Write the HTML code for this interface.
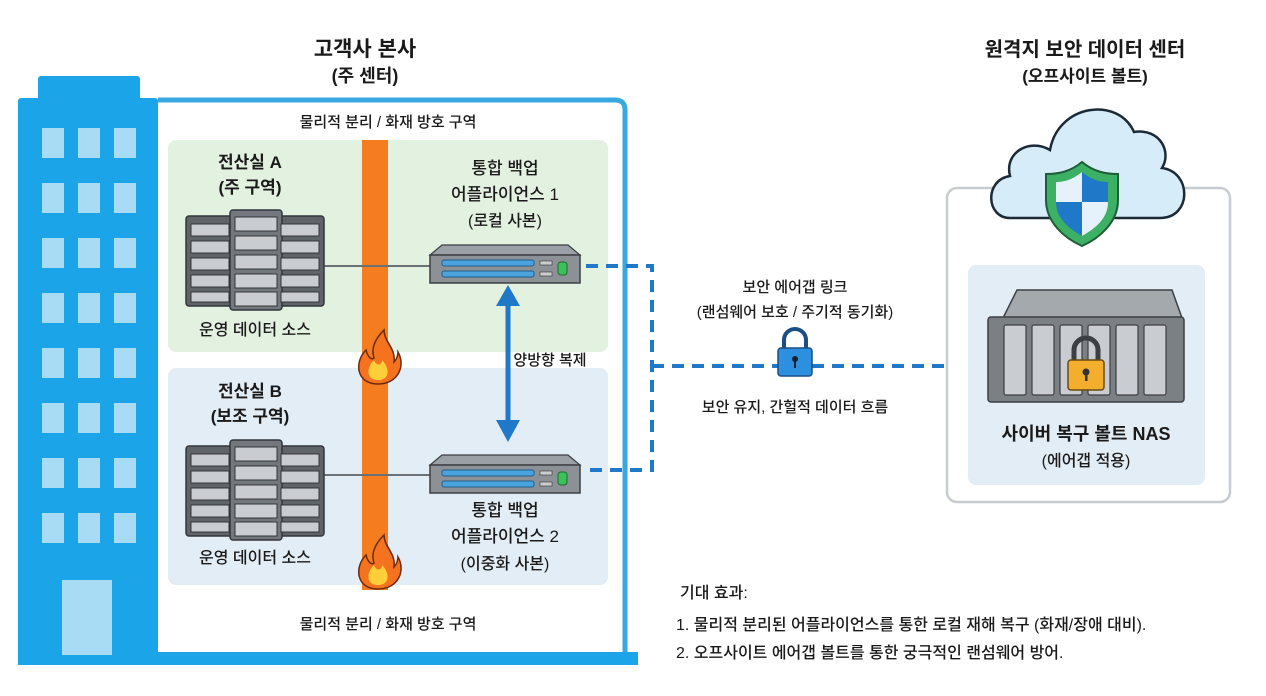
<!DOCTYPE html>
<html><head><meta charset="utf-8"><style>
body{margin:0;background:#fff}
svg text{font-family:"Liberation Sans","Noto Sans CJK KR",sans-serif;fill:#1a1a1a}
.m{font-weight:500}
</style></head><body>
<svg width="1266" height="691" viewBox="0 0 1266 691" xmlns="http://www.w3.org/2000/svg">
<defs>
<g id="srv">
  <rect x="0" y="6" width="48" height="90" rx="3" fill="#5f6468" stroke="#33363a" stroke-width="1.5"/>
  <rect x="90" y="6" width="48" height="90" rx="3" fill="#5f6468" stroke="#33363a" stroke-width="1.5"/>
  <rect x="44" y="0" width="52" height="100" rx="3" fill="#72787d" stroke="#33363a" stroke-width="1.5"/>
  <g fill="#c9cdd1" stroke="#33363a" stroke-width="1">
    <rect x="5" y="14" width="38" height="12"/><rect x="5" y="31" width="38" height="12"/><rect x="5" y="48" width="38" height="12"/><rect x="5" y="65" width="38" height="12"/><rect x="5" y="82" width="38" height="10"/>
    <rect x="95" y="14" width="38" height="12"/><rect x="95" y="31" width="38" height="12"/><rect x="95" y="48" width="38" height="12"/><rect x="95" y="65" width="38" height="12"/><rect x="95" y="82" width="38" height="10"/>
    <rect x="49" y="7" width="42" height="14"/><rect x="49" y="26" width="42" height="14"/><rect x="49" y="45" width="42" height="14"/><rect x="49" y="64" width="42" height="14"/><rect x="49" y="82" width="42" height="14"/>
  </g>
</g>
<g id="app">
  <polygon points="12,0 138,0 150,10 0,10" fill="#9aa0a6" stroke="#3c3f43" stroke-width="1.2"/>
  <rect x="0" y="10" width="150" height="28" fill="#8c9196" stroke="#3c3f43" stroke-width="1.5"/>
  <rect x="12" y="15" width="92" height="6" rx="2" fill="#4aa3dc" stroke="#1f5f8f"/>
  <rect x="12" y="26" width="92" height="6" rx="2" fill="#4aa3dc" stroke="#1f5f8f"/>
  <rect x="110" y="16" width="12" height="4" fill="#ccc" stroke="#333" stroke-width=".6"/>
  <rect x="110" y="27" width="12" height="4" fill="#ccc" stroke="#333" stroke-width=".6"/>
  <rect x="128" y="17" width="9" height="13" rx="3" fill="#3cc15a" stroke="#1e6b2f"/>
</g>
<g id="flame">
  <path d="M0,22 C-22,22 -24,0 -12,-12 C-10,-4 -6,-2 -4,-4 C-8,-16 0,-26 6,-32 C6,-20 18,-14 16,0 C20,-4 20,-10 20,-10 C28,4 20,22 0,22Z" fill="#f5731f" stroke="#6b2a0a" stroke-width="1.5"/>
  <path d="M0,18 C-12,18 -12,6 -4,-2 C-2,4 4,4 4,-2 C12,6 12,18 0,18Z" fill="#ffcf3a"/>
</g>
</defs>

<path d="M158 100 H615 Q625 100 625 110 V660" fill="none" stroke="#3aa8e0" stroke-width="5"/>
<rect x="18" y="652" width="620" height="13" fill="#1ca4e8"/>
<rect x="38" y="76" width="102" height="30" rx="3" fill="#1ca4e8"/>
<rect x="18" y="98" width="140" height="567" rx="3" fill="#1ca4e8"/>
<g fill="#a8dcf5">
  <rect x="42" y="128" width="22" height="30"/><rect x="78" y="128" width="22" height="30"/><rect x="114" y="128" width="22" height="30"/>
  <rect x="42" y="183" width="22" height="30"/><rect x="78" y="183" width="22" height="30"/><rect x="114" y="183" width="22" height="30"/>
  <rect x="42" y="238" width="22" height="30"/><rect x="78" y="238" width="22" height="30"/><rect x="114" y="238" width="22" height="30"/>
  <rect x="42" y="293" width="22" height="30"/><rect x="78" y="293" width="22" height="30"/><rect x="114" y="293" width="22" height="30"/>
  <rect x="42" y="348" width="22" height="30"/><rect x="78" y="348" width="22" height="30"/><rect x="114" y="348" width="22" height="30"/>
  <rect x="42" y="403" width="22" height="30"/><rect x="78" y="403" width="22" height="30"/><rect x="114" y="403" width="22" height="30"/>
  <rect x="42" y="458" width="22" height="30"/><rect x="78" y="458" width="22" height="30"/><rect x="114" y="458" width="22" height="30"/>
  <rect x="42" y="513" width="22" height="30"/><rect x="78" y="513" width="22" height="30"/><rect x="114" y="513" width="22" height="30"/>
  <rect x="62" y="580" width="50" height="75"/>
</g>

<text x="365" y="56" font-size="21" font-weight="bold" text-anchor="middle">고객사 본사</text>
<text x="365" y="82" font-size="18" font-weight="bold" text-anchor="middle">(주 센터)</text>
<text class="m" x="388" y="127" font-size="15" text-anchor="middle">물리적 분리 / 화재 방호 구역</text>
<text class="m" x="388" y="629" font-size="15" text-anchor="middle">물리적 분리 / 화재 방호 구역</text>

<rect x="168" y="140" width="440" height="212" rx="8" fill="#e3f1e0"/>
<rect x="168" y="368" width="440" height="217" rx="8" fill="#e3edf5"/>
<rect x="362" y="140" width="26" height="450" fill="#f57c1f"/>

<text x="250" y="168" font-size="17" font-weight="bold" text-anchor="middle">전산실 A</text>
<text x="250" y="193" font-size="17" font-weight="bold" text-anchor="middle">(주 구역)</text>
<text class="m" x="255" y="335" font-size="16" text-anchor="middle">운영 데이터 소스</text>
<text x="250" y="397" font-size="17" font-weight="bold" text-anchor="middle">전산실 B</text>
<text x="250" y="422" font-size="17" font-weight="bold" text-anchor="middle">(보조 구역)</text>
<text class="m" x="255" y="563" font-size="16" text-anchor="middle">운영 데이터 소스</text>

<text class="m" x="505" y="174" font-size="17" text-anchor="middle">통합 백업</text>
<text class="m" x="505" y="200" font-size="17" text-anchor="middle">어플라이언스 1</text>
<text class="m" x="505" y="226" font-size="16" text-anchor="middle">(로컬 사본)</text>
<text class="m" x="505" y="516" font-size="17" text-anchor="middle">통합 백업</text>
<text class="m" x="505" y="542" font-size="17" text-anchor="middle">어플라이언스 2</text>
<text class="m" x="505" y="569" font-size="16" text-anchor="middle">(이중화 사본)</text>

<line x1="322" y1="266" x2="432" y2="266" stroke="#6b7075" stroke-width="2"/>
<line x1="322" y1="475" x2="432" y2="475" stroke="#6b7075" stroke-width="2"/>
<use href="#srv" x="186" y="210"/>
<use href="#srv" x="186" y="440"/>
<use href="#app" x="430" y="245"/>
<use href="#app" x="430" y="455"/>
<use href="#flame" x="378" y="362"/>
<use href="#flame" x="378" y="567"/>

<line x1="508" y1="305" x2="508" y2="422" stroke="#1f78c8" stroke-width="5"/>
<polygon points="508,285 496,306 520,306" fill="#1f78c8"/>
<polygon points="508,442 496,420 520,420" fill="#1f78c8"/>
<text class="m" x="550" y="365" font-size="15" text-anchor="middle">양방향 복제</text>

<g stroke="#1f78c8" stroke-width="4" stroke-dasharray="12 8" fill="none">
  <path d="M586 266 H652 V470 H586"/>
  <path d="M652 366 H962"/>
</g>
<polygon points="982,366 962,356 962,376" fill="#1f78c8"/>
<rect x="774" y="348" width="42" height="10" fill="#fff"/>
<path d="M784 350 V340 a11 11 0 0 1 22 0 V350" fill="none" stroke="#1a4f86" stroke-width="4"/>
<rect x="778" y="348" width="34" height="28" rx="3" fill="#2d8fe0" stroke="#1a4f86" stroke-width="1.5"/>
<circle cx="795" cy="359" r="3" fill="#123"/><rect x="794" y="360" width="2" height="8" fill="#123"/>
<text class="m" x="795" y="292" font-size="15" text-anchor="middle">보안 에어갭 링크</text>
<text class="m" x="795" y="317" font-size="15" text-anchor="middle">(랜섬웨어 보호 / 주기적 동기화)</text>
<text class="m" x="795" y="412" font-size="15" text-anchor="middle">보안 유지, 간헐적 데이터 흐름</text>

<text x="1085" y="56" font-size="20" font-weight="bold" text-anchor="middle">원격지 보안 데이터 센터</text>
<text x="1085" y="82" font-size="17" font-weight="bold" text-anchor="middle">(오프사이트 볼트)</text>
<rect x="947" y="188" width="283" height="314" rx="10" fill="#fff" stroke="#c8cbcf" stroke-width="2.5"/>
<path d="M1010 218 C986 218 984 180 1010 176 C1004 152 1030 138 1050 150 C1058 104 1118 96 1134 132 C1160 128 1172 152 1162 168 C1192 172 1192 218 1160 218 Z" fill="#d6ecf8" stroke="#1c2a38" stroke-width="2.5"/>
<path d="M1082 162 C1070 172 1058 174 1046 174 L1046 200 C1046 222 1064 238 1082 246 C1100 238 1118 222 1118 200 L1118 174 C1106 174 1094 172 1082 162Z" fill="#3cb065" stroke="#1e5e36" stroke-width="2"/>
<path d="M1082 172 C1072 180 1064 182 1056 182 L1056 202 H1082Z" fill="#e6f2fb"/>
<path d="M1082 172 C1092 180 1100 182 1108 182 L1108 202 H1082Z" fill="#1f78c8"/>
<path d="M1056 202 H1082 V236 C1068 228 1056 218 1056 202Z" fill="#1f78c8"/>
<path d="M1108 202 H1082 V236 C1096 228 1108 218 1108 202Z" fill="#e6f2fb"/>
<rect x="968" y="265" width="237" height="220" rx="8" fill="#e3edf5"/>
<polygon points="1017,290 1172,290 1182,318 1003,318" fill="#a4a9ae" stroke="#3c3f43" stroke-width="1.5"/>
<rect x="988" y="317" width="196" height="85" rx="3" fill="#7b8085" stroke="#3c3f43" stroke-width="1.5"/>
<g fill="#c9cdd1" stroke="#3c3f43" stroke-width="1.2">
  <rect x="1004" y="325" width="22" height="70" rx="2"/><rect x="1032" y="325" width="22" height="70" rx="2"/><rect x="1060" y="325" width="22" height="70" rx="2"/>
  <rect x="1088" y="325" width="22" height="70" rx="2"/><rect x="1116" y="325" width="22" height="70" rx="2"/><rect x="1144" y="325" width="22" height="70" rx="2"/>
</g>
<path d="M1074 365 V350 a12 12 0 0 1 24 0 V365" fill="none" stroke="#3c3f43" stroke-width="5"/>
<rect x="1068" y="360" width="36" height="30" rx="3" fill="#f3ae2e" stroke="#6b4a10" stroke-width="1.5"/>
<circle cx="1086" cy="372" r="3.5" fill="#333"/><rect x="1085" y="373" width="2.5" height="8" fill="#333"/>
<text x="1086" y="440" font-size="18" font-weight="bold" text-anchor="middle">사이버 복구 볼트 NAS</text>
<text class="m" x="1086" y="466" font-size="16" text-anchor="middle">(에어갭 적용)</text>

<text class="m" x="680" y="598" font-size="16">기대 효과:</text>
<text class="m" x="676" y="630" font-size="16">1. 물리적 분리된 어플라이언스를 통한 로컬 재해 복구 (화재/장애 대비).</text>
<text class="m" x="676" y="658" font-size="16">2. 오프사이트 에어갭 볼트를 통한 궁극적인 랜섬웨어 방어.</text>
</svg>
</body></html>
